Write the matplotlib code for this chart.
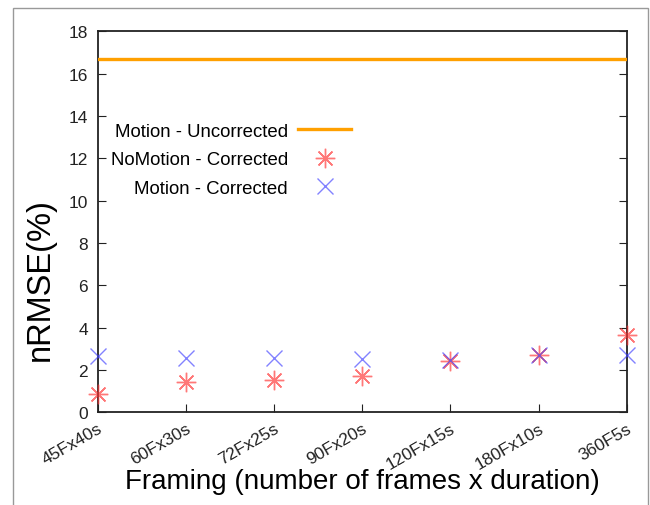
import matplotlib
matplotlib.use('Agg')
import matplotlib.pyplot as plt
from matplotlib.patches import Rectangle

plt.rcParams['font.family'] = ['Liberation Sans', 'DejaVu Sans']

# framings on the x axis
framings = ['45Fx40s', '60Fx30s', '72Fx25s', '90Fx20s', '120Fx15s', '180Fx10s', '360F5s']

# nRMSE (%) per framing
uncorrected = [16.7] * len(framings)
nomotion_corrected = [0.87, 1.45, 1.54, 1.72, 2.40, 2.73, 3.66]
motion_corrected = [2.65, 2.56, 2.57, 2.53, 2.47, 2.69, 2.72]

yticks = [0, 2, 4, 6, 8, 10, 12, 14, 16, 18]

fig = plt.figure(figsize=(6.5, 5.06), dpi=100)
ax = fig.add_axes([0.1503, 0.1832, 0.8138, 0.753])

x = list(range(len(framings)))

ax.plot(x, uncorrected, color='#ffa000', lw=2.4, label='Motion - Uncorrected', zorder=3)
ax.plot(x, nomotion_corrected, ls='none', marker=(8, 2, 0), ms=14, mew=1.0,
        color='#ff3030', alpha=0.65, label='NoMotion - Corrected', clip_on=False, zorder=4)
ax.plot(x, motion_corrected, ls='none', marker='x', ms=12, mew=1.0,
        color='#4040ff', alpha=0.65, label='Motion - Corrected', clip_on=False, zorder=4)

ax.set_xlim(0, len(framings) - 1)
ax.set_ylim(0, 18)
ax.set_yticks(yticks)
ax.set_xticks(x)
ax.set_xticklabels(framings, rotation=30, ha='right', rotation_mode='anchor')

ax.tick_params(axis='both', direction='in', length=6, width=0.8, labelsize=12.5, colors='#222222')
ax.tick_params(axis='y', right=True, pad=7)
ax.tick_params(axis='x', pad=6)
for s in ax.spines.values():
    s.set_linewidth(1.3)
    s.set_color('#222222')

ax.set_xlabel('Framing (number of frames x duration)', fontsize=20, labelpad=-3)
ax.set_ylabel('nRMSE(%)', fontsize=23.5)
ax.yaxis.set_label_coords(-0.079, 0.35)

leg = ax.legend(loc='upper right', bbox_to_anchor=(0.479, 0.76), frameon=False,
                markerfirst=False, fontsize=13.4, handlelength=2.85, handletextpad=0.55,
                labelspacing=0.62, borderpad=0, borderaxespad=0)

# grey frame around the whole picture
fig.patches.append(Rectangle((13 / 650, -0.01), 635 / 650, 1 - 9 / 506 + 0.01,
                             transform=fig.transFigure, fill=False,
                             edgecolor='#999999', lw=1.0))

fig.savefig('out.png', dpi=100)
